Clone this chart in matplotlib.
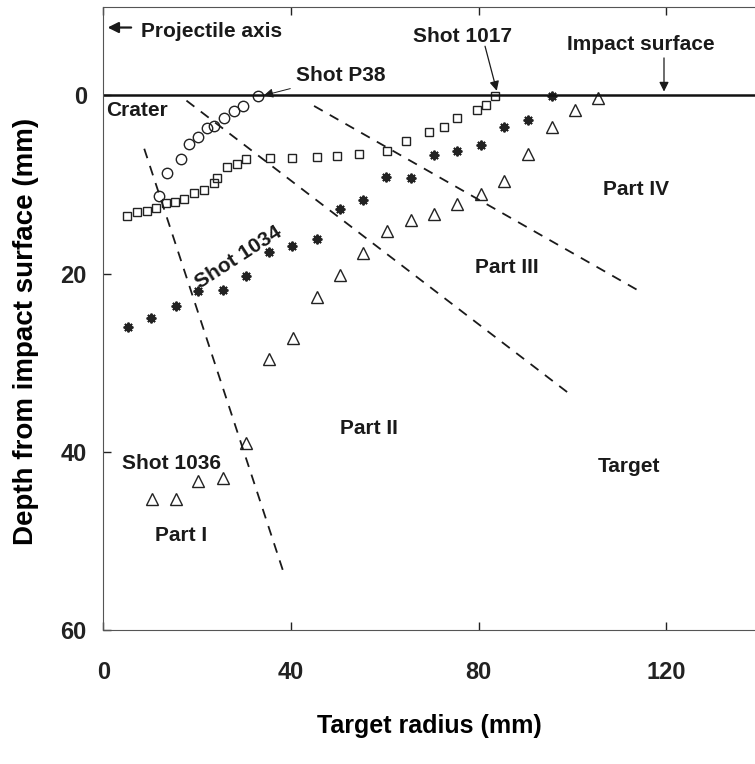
# -*- coding: utf-8 -*-
"""
depth profiles of the impact parts, shots P38, 1017, 1034, 1036
"""
import matplotlib.pyplot as plt

#################### data (radius mm, depth mm)
p38_x = [11.8, 13.6, 16.5, 18.3, 20.2, 22.0, 23.6, 25.7, 27.8, 29.8, 32.9]
p38_y = [11.3, 8.7, 7.2, 5.5, 4.7, 3.7, 3.5, 2.5, 1.8, 1.2, 0.1]

s1017_x = [5.1, 7.1, 9.2, 11.2, 13.3, 15.2, 17.2, 19.4, 21.4, 23.6, 24.3, 26.3,
           28.4, 30.4, 35.5, 40.3, 45.5, 49.7, 54.5, 60.4, 64.5, 69.5, 72.6,
           75.4, 79.6, 81.6, 83.5]
s1017_y = [13.6, 13.1, 13.0, 12.6, 12.1, 12.0, 11.6, 11.0, 10.6, 9.9, 9.3, 8.1,
           7.7, 7.1, 7.0, 7.0, 6.9, 6.8, 6.6, 6.2, 5.1, 4.1, 3.6,
           2.6, 1.6, 1.1, 0.1]

s1034_x = [5.3, 10.1, 15.4, 20.2, 25.4, 30.4, 35.4, 40.3, 45.5, 50.4, 55.4,
           60.3, 65.5, 70.5, 75.4, 80.4, 85.4, 90.6, 95.6]
s1034_y = [26.0, 25.0, 23.7, 22.0, 21.8, 20.3, 17.6, 16.9, 16.1, 12.8, 11.7,
           9.2, 9.3, 6.7, 6.2, 5.6, 3.6, 2.8, 0.1]

s1036_x = [10.3, 15.4, 20.2, 25.4, 30.4, 35.4, 40.5, 45.5, 50.4, 55.4, 60.4,
           65.5, 70.5, 75.4, 80.4, 85.4, 90.6, 95.6, 100.5, 105.5]
s1036_y = [45.3, 45.3, 43.3, 42.9, 39.0, 29.6, 27.2, 22.6, 20.2, 17.7, 15.2,
           14.0, 13.3, 12.2, 11.1, 9.6, 6.6, 3.6, 1.6, 0.3]

# dashed boundaries between parts (start, end)
crater_x = [8.7, 38.5]
crater_y = [6.0, 53.7]
bound2_x = [17.7, 99.1]
bound2_y = [0.6, 33.4]
bound3_x = [44.9, 114.0]
bound3_y = [1.2, 21.9]

xticks = [0, 40, 80, 120]
yticks = [0, 20, 40, 60]

#################### plot
plt.rcParams['font.family'] = ['Liberation Sans', 'DejaVu Sans']
plt.rcParams['font.weight'] = 'bold'
plt.rcParams['axes.labelweight'] = 'bold'

fig = plt.figure(figsize=(7.55, 7.64), dpi=100)
ax = fig.add_axes([0.137, 0.1754, 0.863, 0.8154])

ax.plot(p38_x, p38_y, 'o', mfc='none', mec='#222222', ms=7.5, mew=1)
ax.plot(s1017_x, s1017_y, 's', mfc='none', mec='#222222', ms=6, mew=1)
ax.plot(s1034_x, s1034_y, ls='none', marker=(8, 2, 0), color='#222222',
        ms=7, mew=1.4)
ax.plot(s1036_x, s1036_y, '^', mfc='none', mec='#222222', ms=8.5, mew=1)

for bx, by in [(crater_x, crater_y), (bound2_x, bound2_y), (bound3_x, bound3_y)]:
    ax.plot(bx, by, '--', color='#1a1a1a', lw=1.3, dashes=(5.5, 4.5))

ax.axhline(0, color='#111111', lw=1.8)

ax.set_xlim(0, 138.9)
ax.set_ylim(60, -9.9)
ax.set_xticks(xticks)
ax.set_yticks(yticks)
ax.tick_params(direction='in', length=6, width=1, labelsize=17,
               top=True, colors='#222222')
ax.tick_params(axis='x', pad=22)
ax.tick_params(axis='y', pad=12)
ax.spines['right'].set_visible(False)
for s in ['left', 'top', 'bottom']:
    ax.spines[s].set_color('#555555')

ax.set_xlabel('Target radius (mm)', fontsize=18, labelpad=22)
ax.set_ylabel('Depth from impact surface (mm)', fontsize=20)
ax.yaxis.set_label_coords(-0.099, 0.48)

#################### annotations
tkw = dict(fontsize=15, color='#1a1a1a')
arr = dict(arrowstyle='-|>', color='#1a1a1a', lw=0.9, mutation_scale=14)
ax.annotate('', xy=(0.3, -7.6), xytext=(6.5, -7.6),
            arrowprops=dict(arrowstyle='-|>', color='#1a1a1a', lw=1.6,
                            mutation_scale=16))
ax.text(8, -7.2, 'Projectile axis', va='center', **tkw)
ax.annotate('Shot P38', xy=(33.6, 0.1), xytext=(41, -2.2), va='center',
            arrowprops=dict(arrowstyle='-|>', color='#1a1a1a', lw=0.7,
                            mutation_scale=14), **tkw)
ax.annotate('', xy=(84.0, -0.2), xytext=(81.2, -5.8), arrowprops=arr)
ax.text(66, -6.6, 'Shot 1017', va='center', **tkw)
ax.annotate('', xy=(119.5, -0.1), xytext=(119.5, -4.5), arrowprops=arr)
ax.text(98.8, -5.7, 'Impact surface', va='center', **tkw)

ax.text(0.5, 0.6, 'Crater', va='top', **tkw)
ax.text(28.9, 18.2, 'Shot 1034', rotation=33, ha='center', va='center', **tkw)
ax.text(4, 40.3, 'Shot 1036', va='top', **tkw)
ax.text(11, 48.3, 'Part I', va='top', **tkw)
ax.text(50.5, 36.3, 'Part II', va='top', **tkw)
ax.text(79.2, 18.3, 'Part III', va='top', **tkw)
ax.text(106.5, 9.5, 'Part IV', va='top', **tkw)
ax.text(105.3, 40.6, 'Target', va='top', **tkw)

fig.savefig('out.png', dpi=100)
